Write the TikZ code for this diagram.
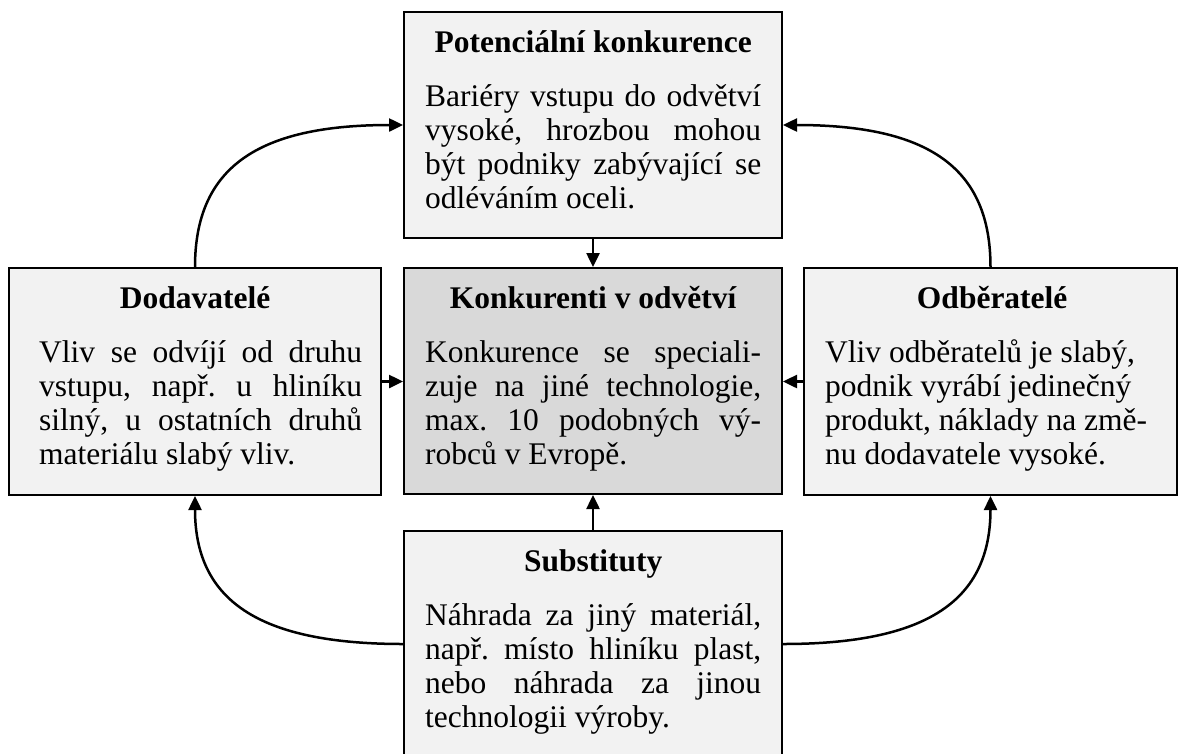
\documentclass[tikz,border=0pt]{standalone}
\usepackage{fontspec}
\setmainfont{Liberation Serif}
\usetikzlibrary{arrows.meta}

\definecolor{panelfill}{HTML}{F2F2F2}
\definecolor{corefill}{HTML}{D9D9D9}

% one justified row, one left-aligned row, and a centred bold heading row
\newcommand\jrow[1]{\hbox to\hsize{#1}}
\newcommand\lrow[1]{\hbox{#1}}
\newcommand\headrow[2][0pt]{\hbox to\hsize{\hss\bfseries #2\hss\kern#1}}
% text block of a panel: reference point is the baseline of the heading
\newcommand\panelbody[2]{\parbox[t]{#1}{\fontsize{31.5}{34.2}\selectfont
  \frenchspacing\lineskiplimit=-100pt\hbadness=10000 #2}}
\newcommand\bodygap{\vskip 19.8pt}

\tikzset{
  panel/.style={draw=black, line width=2pt, fill=panelfill, inner sep=0pt},
  corepanel/.style={panel, fill=corefill},
  paneltext/.style={inner sep=0pt, anchor=base west},
  conn/.style={line width=2.5pt, -{Triangle[length=14pt,width=13pt]}}
}

\begin{document}
\begin{tikzpicture}[x=1pt, y=-1pt]
\useasboundingbox (0,0) rectangle (1181,753);

% panels
\node[panel, minimum width=378pt, minimum height=226pt] (topbox) at (593,125) {};
\node[panel, minimum width=372pt, minimum height=227pt] (leftbox) at (195,381.5) {};
\node[corepanel, minimum width=378pt, minimum height=226pt] (corebox) at (593,381) {};
\node[panel, minimum width=373pt, minimum height=227pt] (rightbox) at (990.5,381.5) {};
\node[panel, minimum width=378pt, minimum height=226pt] (bottombox) at (593,644) {};

% panel texts
\node[paneltext] (toptext) at (425,52) {\panelbody{336pt}{%
  \headrow{Potenciální konkurence}\bodygap
  \jrow{Bariéry vstupu do odvětví}
  \jrow{vysoké, hrozbou mohou}
  \jrow{být podniky zabývající se}
  \lrow{odléváním oceli.}}};

\node[paneltext] (lefttext) at (39,308) {\panelbody{323pt}{%
  \headrow[11pt]{Dodavatelé}\bodygap
  \jrow{Vliv se odvíjí od druhu}
  \jrow{vstupu, např. u hliníku}
  \jrow{silný, u ostatních druhů}
  \lrow{materiálu slabý vliv.}}};

\node[paneltext] (coretext) at (425,308) {\panelbody{336pt}{%
  \headrow{Konkurenti v odvětví}\bodygap
  \jrow{Konkurence se speciali-}
  \jrow{zuje na jiné technologie,}
  \jrow{max. 10 podobných vý-}
  \lrow{robců v Evropě.}}};

\node[paneltext] (righttext) at (825,308) {\panelbody{334pt}{%
  \headrow{Odběratelé}\bodygap
  \lrow{Vliv odběratelů je slabý,}
  \lrow{podnik vyrábí jedinečný}
  \lrow{produkt, náklady na změ-}
  \lrow{nu dodavatele vysoké.}}};

\node[paneltext] (bottomtext) at (425,571) {\panelbody{336pt}{%
  \headrow{Substituty}\bodygap
  \jrow{Náhrada za jiný materiál,}
  \jrow{např. místo hliníku plast,}
  \jrow{nebo náhrada za jinou}
  \lrow{technologii výroby.}}};

% straight connectors into the central panel
\draw[conn] (topbox.south) -- (corebox.north);
\draw[conn] (bottombox.north) -- (corebox.south);
\draw[conn] (leftbox.east) -- (leftbox.east -| corebox.west);
\draw[conn] (rightbox.west) -- (rightbox.west -| corebox.east);

% curved connectors around the outside
\draw[conn] (leftbox.north) .. controls +(0,-99) and +(-146,0) .. (topbox.west);
\draw[conn] (rightbox.north) .. controls +(0,-99) and +(146,0) .. (topbox.east);
\draw[conn] (bottombox.west) .. controls +(-145,0) and +(0,104) .. (leftbox.south);
\draw[conn] (bottombox.east) .. controls +(145,0) and +(0,104) .. (rightbox.south);
\end{tikzpicture}
\end{document}
